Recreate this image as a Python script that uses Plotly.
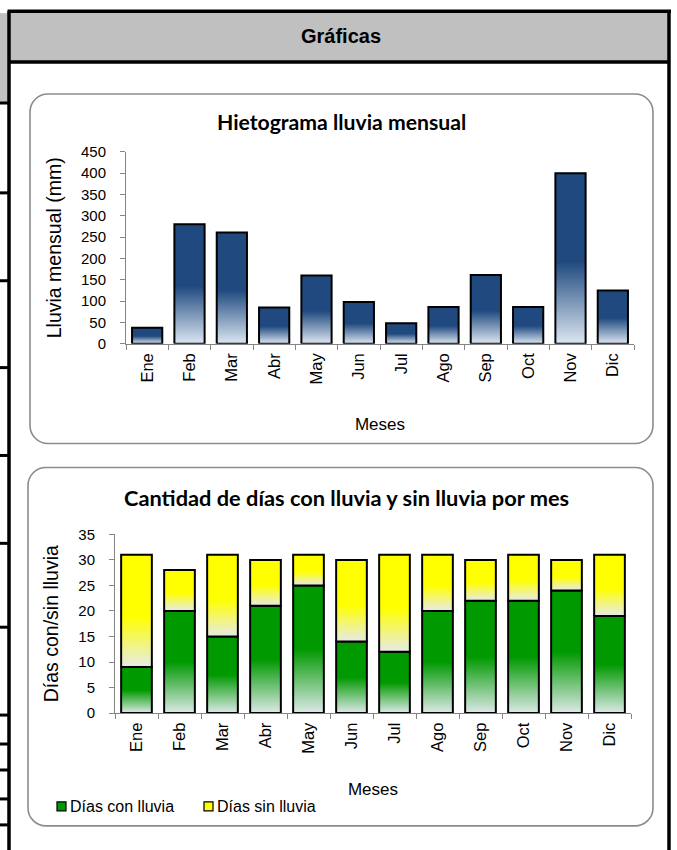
import plotly.graph_objects as go

W, H = 677, 850

# ---------------- data ----------------
meses = ["Ene", "Feb", "Mar", "Abr", "May", "Jun", "Jul", "Ago", "Sep", "Oct", "Nov", "Dic"]
lluvia_mm = [37, 280, 261, 85, 160, 98, 48, 86, 161, 86, 400, 125]
dias_con_lluvia = [9, 20, 15, 21, 25, 14, 12, 20, 22, 22, 24, 19]
dias_sin_lluvia = [22, 8, 16, 9, 6, 16, 19, 11, 8, 9, 6, 12]
y1_ticks = [0, 50, 100, 150, 200, 250, 300, 350, 400, 450]
y2_ticks = [0, 5, 10, 15, 20, 25, 30, 35]

# ---------------- helpers (screen pixel -> paper) ----------------
# the captured page maps figure y to screen y as  y_s = 7.85 + 0.9815 * y_f
Y_OFF, Y_SC = 7.85, 0.9815


def px(x):
    return x / W


def py(y):
    return 1 - ((y - Y_OFF) / Y_SC) / H


AX = "#868686"
TXT = "Liberation Sans, Arial, sans-serif"
TITLEF = "Lato, Calibri, sans-serif"

fig = go.Figure()

HALF = 0.357  # half bar width in category units


def add_bar(xa, ya, i, base, val, light, dark, stop):
    xs = [i - HALF, i - HALF, i + HALF, i + HALF, i - HALF]
    ys = [base, base + val, base + val, base, base]
    fig.add_trace(go.Scatter(
        x=xs, y=ys, xaxis=xa, yaxis=ya, mode="lines", fill="toself",
        fillcolor=dark,
        fillgradient=dict(type="vertical",
                          colorscale=[[0, light], [stop, dark], [1, dark]]),
        line=dict(color="black", width=2), hoverinfo="skip", showlegend=False))


for i, v in enumerate(lluvia_mm):
    add_bar("x", "y", i, 0, v, "#dce6f2", "#204a7f", 0.48)

for i, (c, s) in enumerate(zip(dias_con_lluvia, dias_sin_lluvia)):
    add_bar("x2", "y2", i, 0, c, "#dde9e8", "#009900", 0.5)
    add_bar("x2", "y2", i, c, s, "#e6ebe8", "#ffff00", 0.45)


def xaxis_cfg(dom, anchor, standoff):
    return dict(
        domain=dom, anchor=anchor, range=[-0.5, 11.5],
        tickmode="array", tickvals=list(range(len(meses))), ticktext=meses,
        tickangle=-90, ticks="", ticklabelstandoff=2,
        tickfont=dict(family=TXT, size=16.5, color="black"),
        showline=True, linecolor=AX, linewidth=1, showgrid=False, zeroline=False,
        minor=dict(tickmode="array", tickvals=[k - 0.5 for k in range(len(meses) + 1)],
                   ticks="outside", ticklen=5, tickcolor=AX, showgrid=False),
        title=dict(text="Meses", font=dict(family=TXT, size=17, color="black"), standoff=standoff),
        fixedrange=True)


def yaxis_cfg(dom, anchor, rng, tv, title):
    return dict(
        domain=dom, anchor=anchor, range=rng, tickmode="array", tickvals=tv,
        ticks="outside", ticklen=5, tickcolor=AX, ticklabelstandoff=11,
        tickfont=dict(family=TXT, size=15, color="black"),
        showline=True, linecolor=AX, linewidth=1, showgrid=False, zeroline=False,
        title=dict(text=title, font=dict(family=TXT, size=19.5, color="black"), standoff=14),
        fixedrange=True)


fig.update_layout(
    width=W, height=H, margin=dict(l=0, r=0, t=0, b=0),
    paper_bgcolor="white", plot_bgcolor="rgba(0,0,0,0)", showlegend=False,
    font=dict(family=TXT, color="black"),
    xaxis=xaxis_cfg([px(126), px(634)], "y", 34),
    yaxis=yaxis_cfg([py(343), py(151)], "x", [0, 450], y1_ticks, "Lluvia mensual (mm)"),
    xaxis2=xaxis_cfg([px(115), px(631)], "y2", 30),
    yaxis2=yaxis_cfg([py(713), py(534)], "x2", [0, 35], y2_ticks, "Días con/sin lluvia"),
)

# ---------------- spreadsheet frame ----------------
shapes = []


def rect(x0, y0, x1, y1, fill=None, lc=None, lw=0, layer="below"):
    shapes.append(dict(type="rect", xref="paper", yref="paper",
                       x0=px(x0), x1=px(x1), y0=py(y1), y1=py(y0),
                       fillcolor=fill if fill else "rgba(0,0,0,0)",
                       line=dict(color=lc if lc else "rgba(0,0,0,0)", width=lw),
                       layer=layer))


def line(x0, y0, x1, y1, c="black", w=3.5):
    shapes.append(dict(type="line", xref="paper", yref="paper",
                       x0=px(x0), x1=px(x1), y0=py(y0), y1=py(y1),
                       line=dict(color=c, width=w), layer="above"))


def rrect(x0, y0, x1, y1, r):
    k = 0.5523 * r

    def P(x, y):
        return f"{px(x):.5f},{py(y):.5f}"
    path = (f"M {P(x0 + r, y0)} L {P(x1 - r, y0)} "
            f"C {P(x1 - r + k, y0)} {P(x1, y0 + r - k)} {P(x1, y0 + r)} "
            f"L {P(x1, y1 - r)} "
            f"C {P(x1, y1 - r + k)} {P(x1 - r + k, y1)} {P(x1 - r, y1)} "
            f"L {P(x0 + r, y1)} "
            f"C {P(x0 + r - k, y1)} {P(x0, y1 - r + k)} {P(x0, y1 - r)} "
            f"L {P(x0, y0 + r)} "
            f"C {P(x0, y0 + r - k)} {P(x0 + r - k, y0)} {P(x0 + r, y0)} Z")
    shapes.append(dict(type="path", xref="paper", yref="paper", path=path,
                       line=dict(color="#8c8c8c", width=1.6), fillcolor="white",
                       layer="below"))


rect(9, 10, 669, 61, fill="#c0c0c0")
rect(0, 12, 8, 101, fill="#c0c0c0")
line(7.5, 10, 671, 10)
line(9, 10, 9, 860)
line(669, 10, 669, 860)
line(9, 61, 669, 61)
for yy in [102, 192, 280, 367, 455, 543, 627, 715, 744, 770, 799, 825]:
    line(0, yy, 9, yy, w=3)

rrect(30, 93, 653, 443, 18)
rrect(28, 467, 653, 826, 18)

rect(57, 802, 66, 811, fill="#009900", lc="black", lw=1.2, layer="above")
rect(204, 802, 213, 811, fill="#ffff00", lc="black", lw=1.2, layer="above")

fig.update_layout(shapes=shapes)

ann = [
    dict(text="<b>Gráficas</b>", x=px(341), y=py(35), font=dict(family=TXT, size=20)),
    dict(text="<b>Hietograma lluvia mensual</b>", x=px(341), y=py(121),
         font=dict(family=TITLEF, size=21.2)),
    dict(text="<b>Cantidad de días con lluvia y sin lluvia por mes</b>", x=px(346), y=py(497),
         font=dict(family=TITLEF, size=21.8)),
    dict(text="Días con lluvia", x=px(68), y=py(807), xanchor="left",
         font=dict(family=TXT, size=16)),
    dict(text="Días sin lluvia", x=px(215), y=py(807), xanchor="left",
         font=dict(family=TXT, size=16)),
]
for a in ann:
    a.setdefault("xanchor", "center")
    a.update(xref="paper", yref="paper", yanchor="middle", showarrow=False)
    a["font"]["color"] = "black"
fig.update_layout(annotations=ann)

fig.write_html("out.html", config={"displayModeBar": False, "staticPlot": True},
               post_script="document.body.style.margin='0';")
